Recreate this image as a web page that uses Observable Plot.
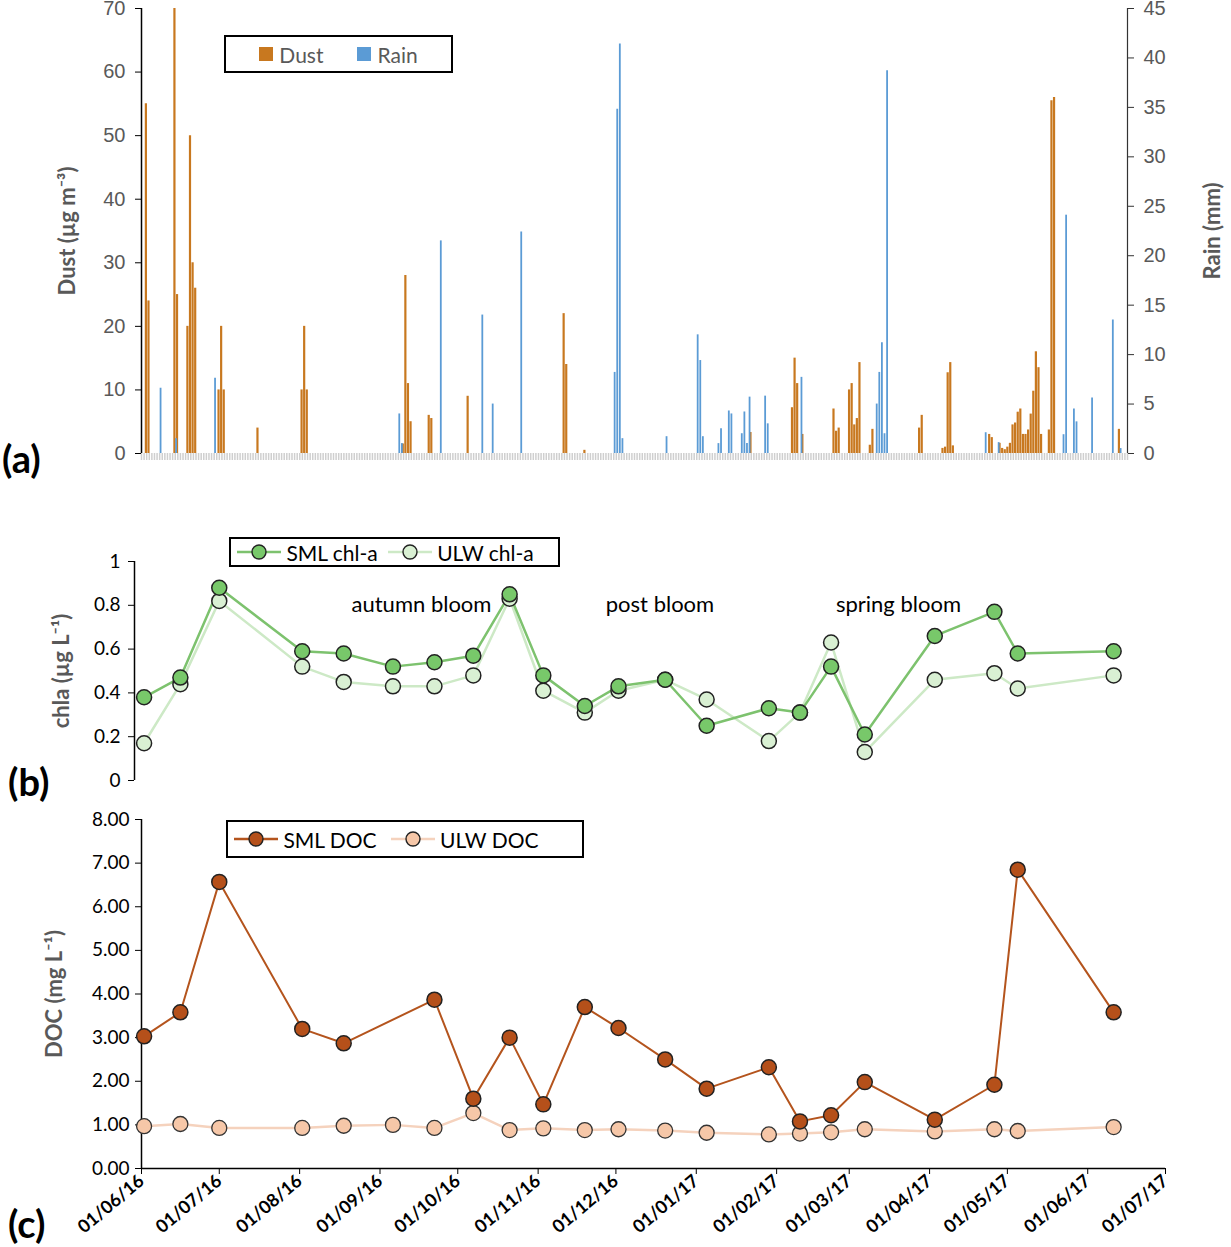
<!DOCTYPE html>
<html><head><meta charset="utf-8">
<script src="https://cdn.jsdelivr.net/npm/d3@7"></script>
<script src="https://cdn.jsdelivr.net/npm/@observablehq/plot@0.6"></script>
<style>
body{margin:0;background:#fff;font-family:Lato,"Open Sans",sans-serif;}
#wrap{position:relative;width:1231px;height:1247px;overflow:hidden;}
.p{position:absolute;left:0;}
.lab{position:absolute;font-weight:bold;font-size:38px;color:#000;}
.leg{position:absolute;border:2px solid #000;background:#fff;display:flex;align-items:center;gap:10px;padding:0 10px;box-sizing:border-box;font-size:21px;}
.sw{display:inline-block;width:14px;height:14px;margin-right:6px;}
.it{display:flex;align-items:center;}
</style></head><body><div id="wrap"></div>
<script>
// ---- data ----
const start = new Date(2016,5,1);
const dustDay = [2,3,13,14,18,19,20,21,30,31,32,45,62,63,64,101,102,103,104,111,112,126,163,164,171,235,251,252,253,255,267,268,269,273,274,275,276,277,281,282,300,301,309,310,311,312,313,327,328,331,332,333,334,335,336,337,338,339,340,341,342,343,344,345,346,347,350,351,352,377];
const dustVal = [55,24,70,25,20,50,30,26,10,20,10,4,10,20,10,1.5,28,11,5,6,5.5,9,22,14,0.5,3.3,7.2,15,11,3,7,3.5,4,10,11,4.5,5.5,14.3,1.3,3.8,4,6,0.8,1,12.7,14.3,1.2,3,2.5,1.6,0.8,0.6,1,1.6,4.5,4.8,6.5,7,3,3,3.7,6.2,9.8,16,13.5,3,3.7,55.5,56,3.8];
const rainDay = [7,13,28,99,100,115,131,135,146,182,183,184,185,202,214,215,216,222,223,226,227,231,232,233,234,240,241,254,283,284,285,286,287,325,330,355,356,359,360,366,374,377];
const rainVal = [6.6,1.5,7.6,4,1,21.5,14,5,22.4,8.2,34.8,41.4,1.5,1.7,12,9.4,1.7,1,2.5,4.3,4,2,4.2,1,5.7,5.8,3,7.7,5,8.2,11.2,2,38.7,2.1,1.1,1.9,24.1,4.5,3.2,5.6,13.5,0.5];
const sampleDates = ["2016-06-02","2016-06-16","2016-07-01","2016-08-02","2016-08-18","2016-09-06","2016-09-22","2016-10-07","2016-10-21","2016-11-03","2016-11-19","2016-12-02","2016-12-20","2017-01-05","2017-01-29","2017-02-10","2017-02-22","2017-03-07","2017-04-03","2017-04-26","2017-05-05","2017-06-11"];
const smlChl = [0.38,0.47,0.88,0.59,0.58,0.52,0.54,0.57,0.85,0.48,0.34,0.43,0.46,0.25,0.33,0.31,0.52,0.21,0.66,0.77,0.58,0.59];
const ulwChl = [0.17,0.44,0.82,0.52,0.45,0.43,0.43,0.48,0.83,0.41,0.31,0.41,0.46,0.37,0.18,0.31,0.63,0.13,0.46,0.49,0.42,0.48];
const smlDoc = [3.03,3.58,6.57,3.2,2.87,null,3.87,1.6,3.0,1.47,3.7,3.22,2.5,1.83,2.32,1.08,1.22,1.98,1.12,1.92,6.85,3.58];
const ulwDoc = [0.97,1.02,0.93,0.93,0.98,1.0,0.93,1.27,0.88,0.92,0.88,0.9,0.87,0.82,0.78,0.8,0.83,0.9,0.85,0.9,0.86,0.95];
const blooms = [{t:"autumn bloom",d:"2016-09-17"},{t:"post bloom",d:"2016-12-18"},{t:"spring bloom",d:"2017-03-20"}];
const dustTicks = [0,10,20,30,40,50,60,70];
const rainTicks = [0,5,10,15,20,25,30,35,40,45];
const chlTicks = [0,0.2,0.4,0.6,0.8,1];
const docTicks = [0,1,2,3,4,5,6,7,8];

const off = d => d3.timeDay.offset(start, d);
const pd = s => d3.timeParse("%Y-%m-%d")(s);
const wrap = document.getElementById("wrap");
const font = "Lato, 'Open Sans', sans-serif";
function fixLabels(svg, fill){
  svg.querySelectorAll("g[aria-label='y-axis label'] text").forEach(t=>{
    t.textContent = t.textContent.replace(/\s*[→↑↓←]\s*/g,"");
    t.setAttribute("font-weight","bold"); t.setAttribute("font-size","22"); t.setAttribute("fill",fill);
  });
}

// ---- panel a ----
const aEnd = off(380);
const R = 70/45;
const dust = dustDay.map((d,i)=>({x:off(d),v:dustVal[i]}));
const rain = rainDay.map((d,i)=>({x:off(d),v:rainVal[i]*R}));
const days = d3.range(0,381).map(off);
const pa = Plot.plot({
  width:1231, height:470, marginLeft:141, marginRight:104, marginTop:9, marginBottom:16,
  style:{fontFamily:"'Liberation Sans', Arial, sans-serif", fontSize:"20px", color:"#595959"},
  x:{type:"time", domain:[start,aEnd], axis:null},
  y:{domain:[0,70], axis:null},
  marks:[
    Plot.ruleX(days,{x:d=>d, y1:0, y2:-1.1, stroke:"#cfcfcf", strokeWidth:1.5}),
    Plot.ruleX(dust,{x:"x", y1:0, y2:"v", stroke:"#c8781f", strokeWidth:2.2, dx:-0.8}),
    Plot.ruleX(rain,{x:"x", y1:0, y2:"v", stroke:"#5b9bd5", strokeWidth:1.8, dx:0.9}),
    Plot.ruleX([start],{stroke:"#000", strokeWidth:1.5}),
    Plot.ruleX([aEnd],{stroke:"#333", strokeWidth:1.2}),
    Plot.axisY({anchor:"left", ticks:dustTicks, tickSize:6, tickPadding:10, label:"Dust (µg m⁻³)", labelAnchor:"center", labelOffset:82, stroke:"#000"}),
    Plot.axisY({anchor:"right", ticks:rainTicks.map(t=>t*R), tickFormat:t=>Math.round(t/R), tickSize:6, tickPadding:10, label:"Rain (mm)", labelAnchor:"center", labelOffset:92, stroke:"#333"})
  ]
});
pa.classList.add("p"); pa.style.top="-1px";
fixLabels(pa,"#595959");
pa.querySelectorAll("g[aria-label='y-axis label'] text").forEach(t=>t.setAttribute("font-family",font));
wrap.appendChild(pa);

// ---- panel b ----
const cStart = start, cEnd = new Date(2017,6,1);
const chl = sampleDates.map((d,i)=>({x:pd(d),s:smlChl[i],u:ulwChl[i]}));
const pb = Plot.plot({
  width:1231, height:262, marginLeft:141, marginRight:66, marginTop:21, marginBottom:22,
  style:{fontFamily:font, fontSize:"19px", color:"#000"},
  x:{type:"time", domain:[cStart,cEnd], axis:null},
  y:{domain:[0,1], axis:null},
  marks:[
    Plot.ruleX([cStart],{stroke:"#000", strokeWidth:1.5, dx:-7}),
    Plot.axisY({ticks:chlTicks, tickFormat:d=>String(d), tickSize:6, dx:-7, tickPadding:8, label:"chla (µg L⁻¹)", labelAnchor:"center", labelOffset:88}),
    Plot.line(chl,{x:"x", y:"u", stroke:"#cde9c6", strokeWidth:2.5}),
    Plot.line(chl,{x:"x", y:"s", stroke:"#7dc26e", strokeWidth:2.5}),
    Plot.dot(chl,{x:"x", y:"u", r:7.5, fill:"#d9f0d3", stroke:"#222", strokeWidth:1.5}),
    Plot.dot(chl,{x:"x", y:"s", r:7.5, fill:"#78c86a", stroke:"#222", strokeWidth:1.5}),
    Plot.text(blooms,{x:d=>pd(d.d), y:0.8, text:"t", fontSize:22, fill:"#000"})
  ]
});
pb.classList.add("p"); pb.style.top="540px";
fixLabels(pb,"#595959");
wrap.appendChild(pb);

// ---- panel c ----
const doc = sampleDates.map((d,i)=>({x:pd(d),s:smlDoc[i],u:ulwDoc[i]}));
const docS = doc.filter(d=>d.s!=null);
const months = d3.timeMonth.range(cStart, d3.timeDay.offset(cEnd,1));
const pc = Plot.plot({
  width:1231, height:442, marginLeft:141, marginRight:66, marginTop:14, marginBottom:79,
  style:{fontFamily:font, fontSize:"19px", color:"#000"},
  x:{type:"time", domain:[cStart,cEnd], axis:null},
  y:{domain:[0,8], axis:null},
  marks:[
    Plot.ruleX([cStart],{stroke:"#000", strokeWidth:1.5}),
    Plot.ruleY([0],{stroke:"#000", strokeWidth:1.5}),
    Plot.axisY({ticks:docTicks, tickFormat:".2f", tickSize:6, tickPadding:6, label:"DOC (mg L⁻¹)", labelAnchor:"center", labelOffset:95}),
    Plot.axisX({ticks:months, tickFormat:d3.timeFormat("%d/%m/%y"), tickSize:6, tickRotate:-40, tickPadding:4, label:null, fontWeight:"bold", fontSize:18}),
    Plot.line(doc,{x:"x", y:"u", stroke:"#f5d2bd", strokeWidth:2.5}),
    Plot.line(docS,{x:"x", y:"s", stroke:"#b4541d", strokeWidth:2}),
    Plot.dot(doc,{x:"x", y:"u", r:7.5, fill:"#f6c7a8", stroke:"#333", strokeWidth:1.3}),
    Plot.dot(docS,{x:"x", y:"s", r:7.5, fill:"#b5501a", stroke:"#222", strokeWidth:1.5})
  ]
});
pc.classList.add("p"); pc.style.top="805px";
fixLabels(pc,"#595959");
wrap.appendChild(pc);

// ---- legends & panel labels ----
function html(s){const d=document.createElement("div");d.innerHTML=s;const e=d.firstChild;wrap.appendChild(e);return e;}
html(`<div class="leg" style="left:224px;top:35px;width:229px;height:38px;color:#595959;gap:34px;justify-content:center"><span class="it"><span class="sw" style="background:#c8781f"></span>Dust</span><span class="it"><span class="sw" style="background:#5b9bd5"></span>Rain</span></div>`);
const lineSw=(lc,fc)=>`<svg width="44" height="20"><line x1="0" y1="10" x2="44" y2="10" stroke="${lc}" stroke-width="2.5"/><circle cx="22" cy="10" r="7" fill="${fc}" stroke="#222" stroke-width="1.4"/></svg>`;
html(`<div class="leg" style="left:229px;top:537px;width:331px;height:30px;gap:10px;padding:0 6px"><span class="it">${lineSw("#7dc26e","#78c86a")}&nbsp;SML chl-a</span><span class="it">${lineSw("#cde9c6","#d9f0d3")}&nbsp;ULW chl-a</span></div>`);
html(`<div class="leg" style="left:226px;top:820px;width:358px;height:38px;gap:14px;padding:0 6px"><span class="it">${lineSw("#b4541d","#b5501a")}&nbsp;SML DOC</span><span class="it">${lineSw("#f5d2bd","#f6c7a8")}&nbsp;ULW DOC</span></div>`);
html(`<div class="lab" style="left:2px;top:435px">(a)</div>`);
html(`<div class="lab" style="left:8px;top:758px">(b)</div>`);
html(`<div class="lab" style="left:8px;top:1200px">(c)</div>`);
</script></body></html>
